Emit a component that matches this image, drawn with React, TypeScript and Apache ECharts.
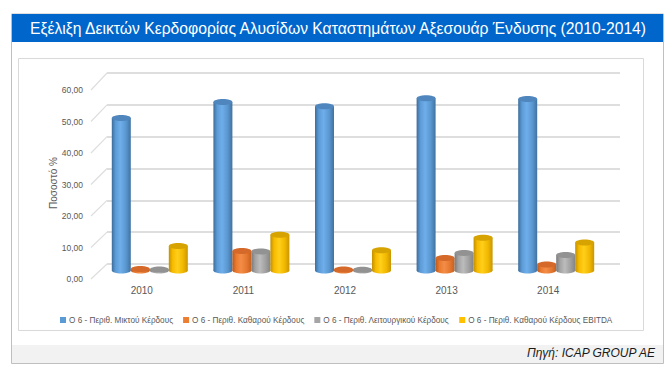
import React, { useEffect, useRef } from "react";
import * as echarts from "echarts";

const years = ["2010", "2011", "2012", "2013", "2014"];
const grossMargin = [47.9, 52.9, 51.6, 54.1, 53.9];
const netMargin = [0.5, 6.1, 0.3, 3.9, 1.9];
const operatingMargin = [0.3, 6.0, 0.2, 5.5, 4.9];
const ebitdaMargin = [7.7, 11.2, 6.4, 10.3, 8.8];
const seriesNames = [
  "Ο 6 - Περιθ. Μικτού Κέρδους",
  "Ο 6 - Περιθ. Καθαρού Κέρδους",
  "Ο 6 - Περιθ. Λειτουργικού Κέρδους",
  "Ο 6 - Περιθ. Καθαρού Κέρδους EBITDA",
];
const yMin = 0;
const yMax = 60;
const yInterval = 10;
const title = "Εξέλιξη Δεικτών Κερδοφορίας Αλυσίδων Καταστημάτων Αξεσουάρ Ένδυσης (2010-2014)";
const yAxisTitle = "Ποσοστό %";

const palettes = [
  { base: "#5b9bd5", stops: ["#3d6d9b", "#5c9bd6", "#6eaeea", "#5a97d0", "#41729f"], top: "#4f86bd" },
  { base: "#ed7d31", stops: ["#b9581c", "#ea7a2f", "#f48d47", "#e57830", "#c4601f"], top: "#d4692a" },
  { base: "#a5a5a5", stops: ["#7a7a7a", "#a3a3a3", "#bcbcbc", "#a0a0a0", "#848484"], top: "#929292" },
  { base: "#ffc000", stops: ["#c29000", "#f7bb00", "#ffcf1a", "#f2b800", "#c99600"], top: "#d6a300" },
];

const FONT = "'Liberation Sans', Arial, sans-serif";

export default function App() {
  const ref = useRef<HTMLDivElement>(null);
  useEffect(() => {
    if (!ref.current) return;
    const chart = echarts.init(ref.current, null, { renderer: "svg" });
    const allValues = [grossMargin, netMargin, operatingMargin, ebitdaMargin];
    const barW = 19;

    const makeSeries = (k: number) => {
      const p = palettes[k];
      const grad = new echarts.graphic.LinearGradient(0, 0, 1, 0, [
        { offset: 0, color: p.stops[0] },
        { offset: 0.2, color: p.stops[1] },
        { offset: 0.45, color: p.stops[2] },
        { offset: 0.75, color: p.stops[3] },
        { offset: 1, color: p.stops[4] },
      ]);
      return {
        type: "custom",
        name: seriesNames[k],
        xAxisIndex: 1,
        yAxisIndex: 1,
        itemStyle: { color: p.base },
        data: years.map((_, i) => [i, allValues[k][i]]),
        renderItem: (params: any, api: any) => {
          const idx = api.value(0);
          const val = api.value(1);
          const top = api.coord([idx, val]);
          const base = api.coord([idx, 0]);
          const cx = top[0] + (k - 1.5) * barW;
          const rx = barW / 2;
          const ry = 3;
          return {
            type: "group",
            children: [
              {
                type: "ellipse",
                shape: { cx, cy: base[1], rx, ry },
                style: { fill: grad },
              },
              {
                type: "rect",
                shape: { x: cx - rx, y: top[1], width: 2 * rx, height: Math.max(0, base[1] - top[1]) },
                style: { fill: grad },
              },
              {
                type: "ellipse",
                shape: { cx, cy: top[1], rx, ry },
                style: { fill: p.top },
              },
            ],
          };
        },
      };
    };

    const baseGraphic: any[] = [
      { type: "rect", shape: { x: 11.5, y: 14, width: 652, height: 349.5 }, style: { fill: "#fff", stroke: "#bfbfbf", lineWidth: 1 }, z: -10 },
      { type: "rect", shape: { x: 12, y: 14, width: 651, height: 28 }, style: { fill: "#0066cc" }, z: -9 },
      {
        type: "text",
        x: 338,
        y: 28,
        style: { text: title, fill: "#ffffff", font: `15.7px ${FONT}`, align: "center", verticalAlign: "middle" },
      },
      { type: "rect", shape: { x: 18.5, y: 58.5, width: 625, height: 272 }, style: { fill: "#fff", stroke: "#d9d9d9", lineWidth: 1 }, z: -8 },
      { type: "rect", shape: { x: 12, y: 345, width: 651, height: 18 }, style: { fill: "#f2f2f2" }, z: -8 },
      {
        type: "text",
        x: 655,
        y: 353,
        style: { text: "Πηγή: ICAP GROUP AE", fill: "#1a1a1a", font: `italic 12px ${FONT}`, align: "right", verticalAlign: "middle" },
      },
      {
        type: "text",
        x: 53,
        y: 183,
        rotation: Math.PI / 2,
        style: { text: yAxisTitle, fill: "#595959", font: `10px ${FONT}`, align: "center", verticalAlign: "middle" },
      },
    ];

    const option: any = {
      animation: false,
      backgroundColor: "transparent",
      textStyle: { fontFamily: FONT },
      grid: [
        { left: 107, top: 73, width: 513, height: 191, outerBoundsMode: "none" },
        { left: 99, top: 79.5, width: 508, height: 191, outerBoundsMode: "none" },
        { left: 91, top: 90, width: 508, height: 189, outerBoundsMode: "none" },
      ],
      xAxis: [
        { gridIndex: 0, type: "category", data: years, show: false },
        { gridIndex: 1, type: "category", data: years, show: false },
        {
          gridIndex: 2,
          type: "category",
          data: years,
          axisLine: { show: false },
          axisTick: { show: false },
          axisLabel: { color: "#595959", fontSize: 10, margin: 6, fontFamily: FONT },
        },
      ],
      yAxis: [
        {
          gridIndex: 0,
          type: "value",
          min: yMin,
          max: yMax,
          interval: yInterval,
          axisLine: { show: false },
          axisTick: { show: false },
          axisLabel: { show: false },
          splitLine: { show: true, lineStyle: { color: "#dedede", width: 2 } },
        },
        { gridIndex: 1, type: "value", min: yMin, max: yMax, interval: yInterval, show: false },
        {
          gridIndex: 2,
          type: "value",
          min: yMin,
          max: yMax,
          interval: yInterval,
          axisLine: { show: false },
          axisTick: { show: false },
          splitLine: { show: false },
          axisLabel: {
            color: "#595959",
            fontSize: 8.5,
            margin: 8,
            fontFamily: FONT,
            formatter: (v: number) => v.toFixed(2).replace(".", ","),
          },
        },
      ],
      legend: {
        left: 55,
        top: 311,
        itemWidth: 6,
        itemHeight: 6,
        itemGap: 10,
        icon: "rect",
        data: seriesNames,
        textStyle: { color: "#595959", fontSize: 8.2, fontFamily: FONT, padding: [0, 0, 0, -2] },
      },
      graphic: baseGraphic,
      series: [0, 1, 2, 3].map(makeSeries),
    };
    chart.setOption(option);

    const ticks: number[] = [];
    for (let v = yMin; v <= yMax; v += yInterval) ticks.push(v);
    const slants = ticks.map((v) => {
      const yb = chart.convertToPixel({ yAxisIndex: 0 } as any, v) as number;
      const yf = chart.convertToPixel({ yAxisIndex: 2 } as any, v) as number;
      return {
        type: "line",
        shape: { x1: 91, y1: yf, x2: 107, y2: yb },
        style: { stroke: "#dedede", lineWidth: 1.2 },
      };
    });
    chart.setOption({ graphic: [...baseGraphic, ...slants] }, { replaceMerge: ["graphic"] } as any);

    return () => chart.dispose();
  }, []);
  return (
    <div
      ref={ref}
      style={{ position: "fixed", left: 0, top: 0, width: 669, height: 378, background: "#fff" }}
    />
  );
}
